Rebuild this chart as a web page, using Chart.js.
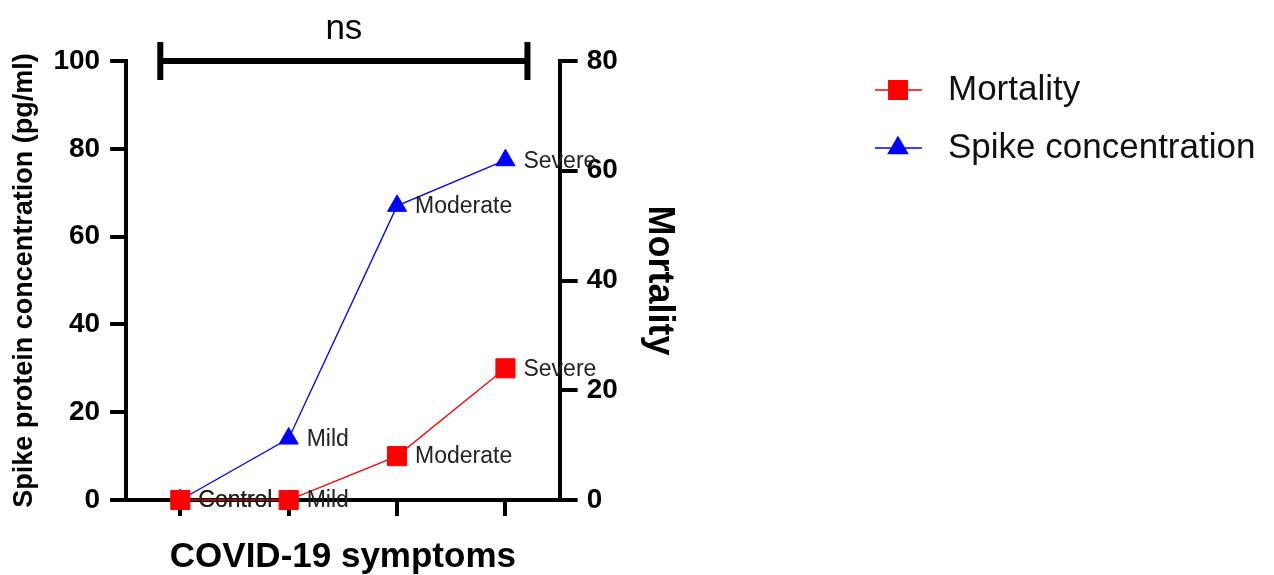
<!DOCTYPE html>
<html>
<head>
<meta charset="utf-8">
<script src="https://cdn.jsdelivr.net/npm/chart.js@4"></script>
<style>
  html, body { margin: 0; padding: 0; background: #fff; }
  #wrap { width: 1274px; height: 575px; position: relative; }
</style>
</head>
<body>
<div id="wrap"><canvas id="chart"></canvas></div>
<script>
// ==========================
// DATA
// ==========================
const categories = ["Control", "Mild", "Moderate", "Severe"];
const mortality = [0, 0, 8, 24];          // right axis
const spikeConc = [0, 14, 67, 77.4];      // left axis (pg/ml)
const leftRange = [0, 100];
const rightRange = [0, 80];
const tickStep = 20;
const sigText = "ns";

const FONT = "'Liberation Sans', Arial, sans-serif";

// ==========================
// PLUGINS
// ==========================
// text next to every point
const pointLabels = {
  id: "pointLabels",
  afterDatasetsDraw(chart) {
    const ctx = chart.ctx;
    ctx.save();
    ctx.font = "23px " + FONT;
    ctx.fillStyle = "#222";
    ctx.textBaseline = "middle";
    ctx.textAlign = "left";
    chart.data.datasets.forEach((ds, i) => {
      chart.getDatasetMeta(i).data.forEach((pt, j) => {
        ctx.fillText(categories[j], pt.x + 18, pt.y + 1);
      });
    });
    ctx.restore();
  }
};

// significance bracket on top
const sigBracket = {
  id: "sigBracket",
  afterDraw(chart) {
    const ctx = chart.ctx;
    const x = chart.scales.x, y = chart.scales.y;
    const x0 = x.getPixelForValue(0) - 20;
    const x1 = x.getPixelForValue(categories.length - 1) + 22;
    const yy = y.getPixelForValue(leftRange[1]);
    ctx.save();
    ctx.strokeStyle = "#000";
    ctx.lineWidth = 6;
    ctx.beginPath();
    ctx.moveTo(x0, yy); ctx.lineTo(x1, yy);
    ctx.moveTo(x0, yy - 19); ctx.lineTo(x0, yy + 19);
    ctx.moveTo(x1, yy - 19); ctx.lineTo(x1, yy + 19);
    ctx.stroke();
    ctx.fillStyle = "#000";
    ctx.font = "35px " + FONT;
    ctx.textAlign = "center";
    ctx.textBaseline = "alphabetic";
    ctx.fillText(sigText, (x0 + x1) / 2, yy - 22);
    ctx.restore();
  }
};

// legend at the right side
const sideLegend = {
  id: "sideLegend",
  afterDraw(chart) {
    const ctx = chart.ctx;
    const left = 875, top = 90, rowGap = 58;
    ctx.save();
    chart.data.datasets.forEach((ds, i) => {
      const yy = top + i * rowGap;
      ctx.strokeStyle = ds.borderColor;
      ctx.lineWidth = 1.5;
      ctx.beginPath();
      ctx.moveTo(left, yy); ctx.lineTo(left + 47, yy);
      ctx.stroke();
      ctx.fillStyle = ds.backgroundColor;
      Chart.helpers.drawPoint(ctx, {
        pointStyle: ds.pointStyle,
        radius: ds.pointStyle === "rect" ? 13 : 11,
        rotation: 0,
        borderWidth: 1
      }, left + 23, yy);
      ctx.fillStyle = "#111";
      ctx.font = "35px " + FONT;
      ctx.textAlign = "left";
      ctx.textBaseline = "middle";
      ctx.fillText(ds.label, left + 73, yy);
    });
    ctx.restore();
  }
};

// ==========================
// CHART
// ==========================
const axisGrid = (len) => ({
  display: true,
  drawOnChartArea: false,
  color: "#000",
  lineWidth: 4,
  tickLength: len
});
const axisBorder = { display: true, color: "#000", width: 4 };
const tickFont = { family: FONT, size: 28, weight: "bold" };

new Chart(document.getElementById("chart"), {
  type: "line",
  data: {
    labels: categories,
    datasets: [
      {
        label: "Mortality",
        data: mortality,
        yAxisID: "y1",
        borderColor: "#ff0000",
        backgroundColor: "#ff0000",
        borderWidth: 1.3,
        pointStyle: "rect",
        pointRadius: 13.5,
        pointHoverRadius: 13.5,
        pointBorderWidth: 1,
        clip: false
      },
      {
        label: "Spike concentration",
        data: spikeConc,
        yAxisID: "y",
        borderColor: "#0000ff",
        backgroundColor: "#0000ff",
        borderWidth: 1.3,
        pointStyle: "triangle",
        pointRadius: 11,
        pointHoverRadius: 11,
        pointBorderWidth: 1,
        clip: false
      }
    ]
  },
  options: {
    responsive: true,
    maintainAspectRatio: false,
    animation: false,
    layout: { padding: { left: 4, top: 61, right: 593, bottom: 0 } },
    plugins: {
      legend: { display: false },
      tooltip: { enabled: false }
    },
    scales: {
      x: {
        offset: true,
        grid: axisGrid(16),
        border: axisBorder,
        ticks: { display: false },
        title: {
          display: true,
          text: "COVID-19 symptoms",
          color: "#000",
          font: { family: FONT, size: 35, weight: "bold" },
          padding: { top: 20, bottom: -3 }
        }
      },
      y: {
        position: "left",
        min: leftRange[0],
        max: leftRange[1],
        grid: axisGrid(16),
        border: axisBorder,
        ticks: { stepSize: tickStep, color: "#000", padding: 10, font: tickFont },
        title: {
          display: true,
          text: "Spike protein concentration (pg/ml)",
          color: "#000",
          font: { family: FONT, size: 27, weight: "bold" },
          padding: { top: 4, bottom: 3 }
        }
      },
      y1: {
        position: "right",
        min: rightRange[0],
        max: rightRange[1],
        grid: axisGrid(18),
        border: axisBorder,
        ticks: { stepSize: tickStep, color: "#000", padding: 9, font: tickFont },
        title: {
          display: true,
          text: "Mortality",
          color: "#000",
          font: { family: FONT, size: 36, weight: "bold" },
          padding: { top: 0, bottom: 11 }
        }
      }
    }
  },
  plugins: [pointLabels, sigBracket, sideLegend]
});
</script>
</body>
</html>
